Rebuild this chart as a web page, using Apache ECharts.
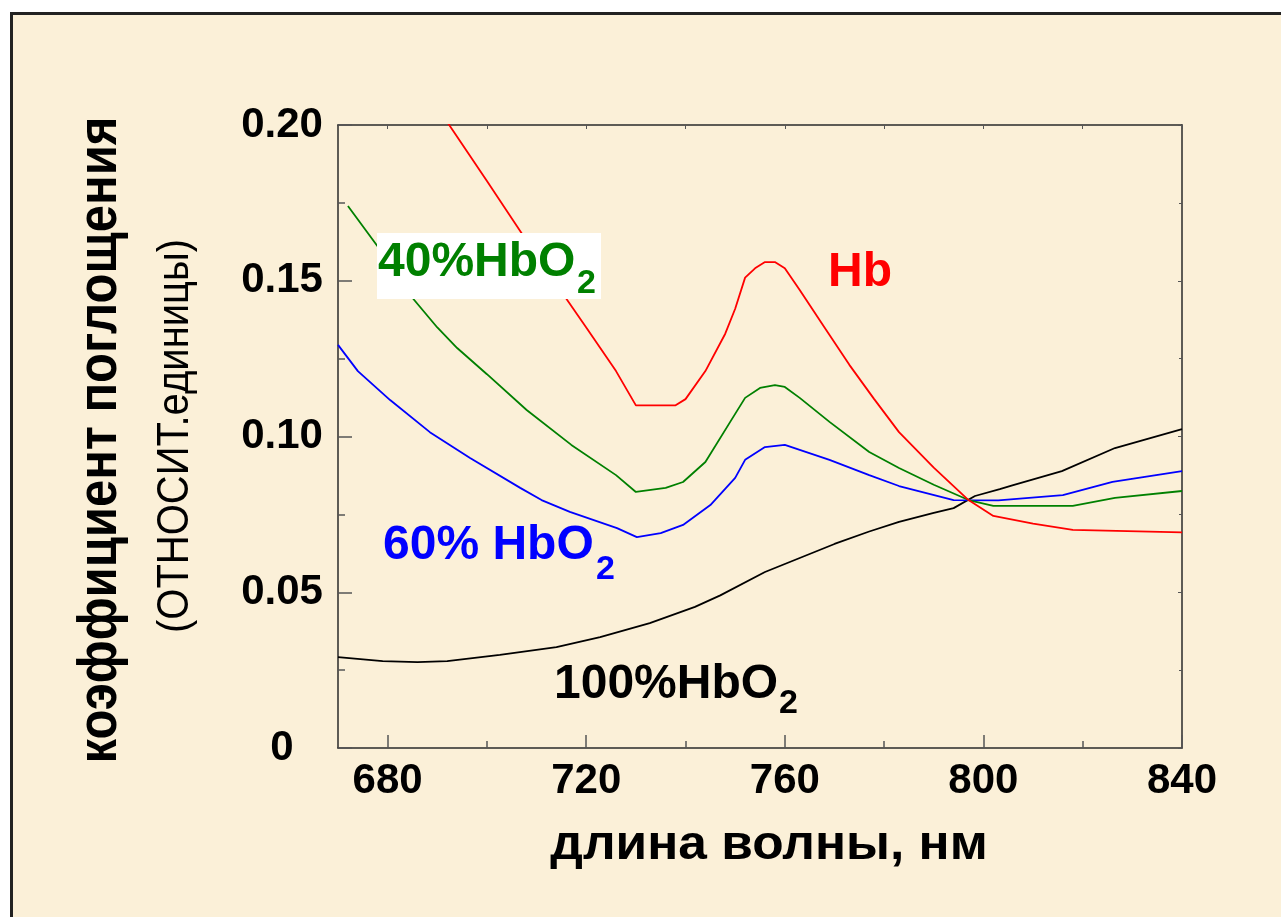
<!DOCTYPE html>
<html>
<head>
<meta charset="utf-8">
<script src="https://cdn.jsdelivr.net/npm/echarts@6/dist/echarts.min.js"></script>
<style>
  html, body { margin: 0; padding: 0; background: #ffffff; }
  #chart { width: 1281px; height: 917px; }
</style>
</head>
<body>
<div id="chart"></div>
<script>
// Absorption spectra of haemoglobin at different oxygen saturation
const xTickMajor = [680, 720, 760, 800, 840];
const xTickMinor = [700, 740, 780, 820];

// deoxyhaemoglobin, Hb
const wlHb  = [686, 692.4, 700, 710, 720, 726, 730, 738, 740, 744, 748, 750, 752, 754, 756, 758, 760, 763, 768, 773, 778, 783, 790, 797, 802, 810, 818, 840];
const absHb = [0.215, 0.200, 0.182, 0.158, 0.135, 0.121, 0.110, 0.110, 0.112, 0.121, 0.133, 0.141, 0.151, 0.154, 0.156, 0.156, 0.154, 0.147, 0.135, 0.123, 0.112, 0.1014, 0.090, 0.0796, 0.0745, 0.072, 0.070, 0.0692];

// 40% HbO2
const wl40  = [672, 678, 684, 690, 694, 700, 708, 717, 726, 730, 736, 739.5, 744, 749, 752, 755, 758, 760, 763, 769, 777, 783, 790, 797, 802, 810, 818, 826.5, 840];
const abs40 = [0.174, 0.161, 0.1464, 0.135, 0.1284, 0.120, 0.1085, 0.0973, 0.0876, 0.0822, 0.0835, 0.0854, 0.0918, 0.1047, 0.1124, 0.1156, 0.1165, 0.1159, 0.1124, 0.1047, 0.095, 0.0899, 0.0845, 0.0796, 0.0777, 0.0777, 0.0777, 0.0803, 0.0825];

// 60% HbO2
const wl60  = [670, 674, 680.5, 688.5, 696.6, 706.7, 711, 716.7, 726.2, 730.2, 735, 739.5, 745, 750, 752, 756, 760, 769, 777, 783, 794, 803, 816, 826, 840];
const abs60 = [0.1294, 0.121, 0.1117, 0.1014, 0.0931, 0.0835, 0.0796, 0.0758, 0.0706, 0.0677, 0.069, 0.0716, 0.078, 0.0867, 0.0925, 0.0966, 0.0973, 0.0925, 0.0876, 0.0841, 0.0796, 0.0795, 0.0812, 0.0854, 0.0889];

// 100% HbO2
const wl100  = [670, 679, 686, 692, 702.6, 714, 722.8, 732.8, 741.9, 747, 756, 763, 770, 777, 783, 790, 794, 798.3, 803.3, 806, 815.8, 826.5, 840];
const abs100 = [0.0292, 0.0279, 0.0276, 0.0279, 0.0299, 0.0324, 0.0356, 0.0401, 0.0453, 0.049, 0.0565, 0.061, 0.0655, 0.0695, 0.0726, 0.0755, 0.077, 0.0809, 0.0831, 0.0844, 0.0889, 0.0963, 0.1024];

function pairs(xs, ys) { return xs.map((x, i) => [x, ys[i]]); }

const FF = '"Liberation Sans", Arial, Helvetica, sans-serif';
const AXIS = '#2a2a2a';
const TICK = '#555555';

function line(name, xs, ys, color) {
  return {
    name, type: 'line', data: pairs(xs, ys),
    xAxisIndex: 0, yAxisIndex: 0,
    showSymbol: false, symbol: 'none', smooth: false, clip: true,
    lineStyle: { color, width: 1.8 }, z: 3, silent: true
  };
}

function text(str, x, y, font, color, extra) {
  return Object.assign({
    type: 'text', x, y, z: 60,
    style: { text: str, font: font, fill: color, align: 'left', verticalAlign: 'middle', textAlign: 'left', textVerticalAlign: 'middle' }
  }, extra || {});
}

const chart = echarts.init(document.getElementById('chart'), null, { renderer: 'canvas' });

const baseX = { type: 'value', min: 670, max: 840, splitLine: { show: false } };

const option = {
  backgroundColor: '#ffffff',
  animation: false,
  grid: { left: 338, right: 99, top: 125, bottom: 169, containLabel: false },
  xAxis: [
    Object.assign({}, baseX, {
      position: 'bottom',
      axisLine: { show: true, lineStyle: { color: AXIS, width: 1.5 } },
      axisTick: { show: true, inside: true, length: 13, customValues: xTickMajor, lineStyle: { color: TICK, width: 1.5 } },
      axisLabel: { show: true, customValues: xTickMajor, margin: 12, color: '#000', fontFamily: FF, fontWeight: 'bold', fontSize: 42 }
    }),
    Object.assign({}, baseX, {
      position: 'bottom',
      axisLine: { show: false },
      axisTick: { show: true, inside: true, length: 7, customValues: xTickMinor, lineStyle: { color: TICK, width: 1.5 } },
      axisLabel: { show: false }
    }),
    Object.assign({}, baseX, {
      position: 'top',
      axisLine: { show: true, lineStyle: { color: AXIS, width: 1.5 } },
      axisTick: { show: true, inside: true, length: 4, customValues: xTickMajor.concat(xTickMinor), lineStyle: { color: TICK, width: 1 } },
      axisLabel: { show: false }
    })
  ],
  yAxis: [
    {
      type: 'value', min: 0, max: 0.2, interval: 0.05, position: 'left',
      splitLine: { show: false },
      axisLine: { show: true, lineStyle: { color: AXIS, width: 1.5 } },
      axisTick: { show: true, inside: true, length: 14, lineStyle: { color: TICK, width: 1.5 } },
      minorTick: { show: true, splitNumber: 2, length: 7, lineStyle: { color: TICK, width: 1.5 } },
      axisLabel: {
        show: true, margin: 56, align: 'center', color: '#000', fontFamily: FF, fontWeight: 'bold', fontSize: 42,
        formatter: v => (v === 0 ? '0' : v.toFixed(2))
      }
    },
    {
      type: 'value', min: 0, max: 0.2, interval: 0.05, position: 'right',
      splitLine: { show: false },
      axisLine: { show: true, lineStyle: { color: AXIS, width: 1.5 } },
      axisTick: { show: true, inside: true, length: 4, lineStyle: { color: TICK, width: 1 } },
      minorTick: { show: true, splitNumber: 2, length: 3, lineStyle: { color: TICK, width: 1 } },
      axisLabel: { show: false }
    }
  ],
  series: [
    line('100% HbO2', wl100, abs100, '#000000'),
    line('60% HbO2', wl60, abs60, '#0000ff'),
    line('40% HbO2', wl40, abs40, '#008000'),
    line('Hb', wlHb, absHb, '#ff0000')
  ],
  graphic: {
    elements: [
      // slide panel with dark frame
      { type: 'rect', z: -100, shape: { x: 11.5, y: 13.5, width: 1400, height: 1000 },
        style: { fill: '#fbf0d8', stroke: '#222222', lineWidth: 3 } },

      // axis titles
      { type: 'text', x: 101, y: 440, rotation: Math.PI / 2, scaleY: 1.12, z: 60,
        style: { text: 'коэффициент поглощения', font: 'bold 49px ' + FF, fill: '#000',
                 align: 'center', verticalAlign: 'middle', textAlign: 'center', textVerticalAlign: 'middle' } },
      { type: 'text', x: 176, y: 436, rotation: Math.PI / 2, scaleY: 1.12, z: 60,
        style: { text: '(ОТНОСИТ.единицы)', font: '40px ' + FF, fill: '#000',
                 align: 'center', verticalAlign: 'middle', textAlign: 'center', textVerticalAlign: 'middle' } },
      { type: 'text', x: 769, y: 845, scaleX: 1.05, z: 60,
        style: { text: 'длина волны, нм', font: 'bold 49px ' + FF, fill: '#000',
                 align: 'center', verticalAlign: 'middle', textAlign: 'center', textVerticalAlign: 'middle' } },

      // curve labels
      { type: 'rect', z: 50, shape: { x: 377, y: 233, width: 224, height: 66 }, style: { fill: '#ffffff' } },
      text('40%HbO', 378, 263, 'bold 48px ' + FF, '#008000'),
      text('2', 577, 284, 'bold 34px ' + FF, '#008000'),

      text('Hb', 828, 273, 'bold 48px ' + FF, '#ff0000'),

      text('60% HbO', 383, 546, 'bold 48px ' + FF, '#0000ff'),
      text('2', 596, 570, 'bold 34px ' + FF, '#0000ff'),

      text('100%HbO', 554, 685, 'bold 48px ' + FF, '#000000'),
      text('2', 779, 704, 'bold 34px ' + FF, '#000000')
    ]
  }
};

chart.setOption(option);
</script>
</body>
</html>
